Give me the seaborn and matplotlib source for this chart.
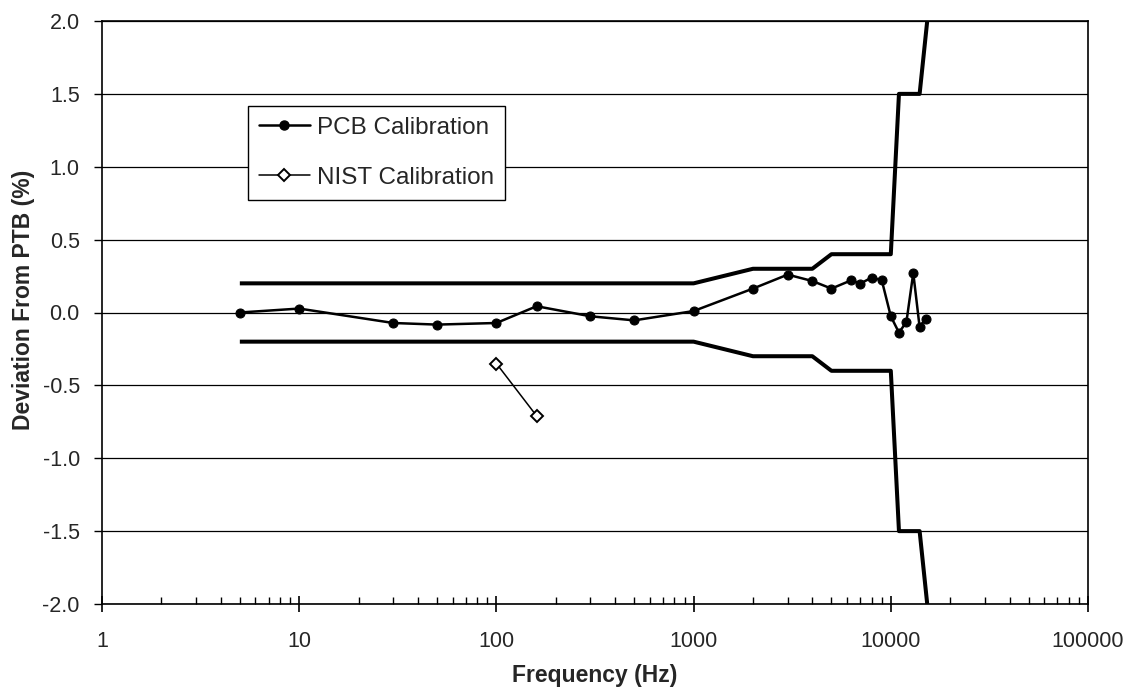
import matplotlib
matplotlib.use("Agg")
import matplotlib.pyplot as plt
import matplotlib.ticker as mticker
from matplotlib.lines import Line2D
import seaborn as sns
import pandas as pd

# ---- data ----
pcb_freq = [5, 10, 30, 50, 100, 160, 300, 500, 1000, 2000, 3000, 4000, 5000,
            6300, 7000, 8000, 9000, 10000, 11000, 12000, 13000, 14000, 15000]
pcb_dev = [0.00, 0.027, -0.072, -0.083, -0.072, 0.043, -0.026, -0.054, 0.01,
           0.164, 0.26, 0.216, 0.164, 0.221, 0.198, 0.24, 0.221, -0.026,
           -0.138, -0.065, 0.271, -0.10, -0.042]

nist_freq = [100, 160]
nist_dev = [-0.35, -0.71]

tol_freq = [5, 1000, 2000, 4000, 5000, 10000, 11000, 14000, 15300]
tol_upper = [0.2, 0.2, 0.3, 0.3, 0.4, 0.4, 1.5, 1.5, 2.0]
tol_lower = [-0.2, -0.2, -0.3, -0.3, -0.4, -0.4, -1.5, -1.5, -2.0]

y_ticks = [-2.0, -1.5, -1.0, -0.5, 0.0, 0.5, 1.0, 1.5, 2.0]
x_ticks = [1, 10, 100, 1000, 10000, 100000]

# ---- style ----
sns.set_style("white")
plt.rcParams['font.family'] = ['Liberation Sans', 'DejaVu Sans']

fig = plt.figure(figsize=(11.33, 6.95), dpi=100)
ax = fig.add_axes([102 / 1133, 1 - 604 / 695, (1088 - 102) / 1133, (604 - 21) / 695])

pcb_df = pd.DataFrame({"f": pcb_freq, "d": pcb_dev})
nist_df = pd.DataFrame({"f": nist_freq, "d": nist_dev})
up_df = pd.DataFrame({"f": tol_freq, "d": tol_upper})
lo_df = pd.DataFrame({"f": tol_freq, "d": tol_lower})

for df in (up_df, lo_df):
    sns.lineplot(data=df, x="f", y="d", ax=ax, color="black", linewidth=2.9,
                 sort=False, estimator=None, legend=False, zorder=3,
                 solid_capstyle="butt")

sns.lineplot(data=pcb_df, x="f", y="d", ax=ax, color="black", linewidth=1.8,
             marker="o", markersize=6.5, markerfacecolor="black",
             markeredgecolor="black", sort=False, estimator=None,
             legend=False, zorder=4)
sns.lineplot(data=nist_df, x="f", y="d", ax=ax, color="black", linewidth=1.1,
             marker="D", markersize=6.5, markerfacecolor="white",
             markeredgecolor="black", markeredgewidth=1.4, sort=False,
             estimator=None, legend=False, zorder=4)

ax.set_xscale("log")
ax.set_xlim(1, 100000)
ax.set_ylim(-2.0, 2.0)

ax.set_yticks(y_ticks)
ax.set_yticklabels([f"{v:.1f}" for v in y_ticks])
ax.set_xticks(x_ticks)
ax.set_xticklabels([str(v) for v in x_ticks])
ax.xaxis.set_minor_locator(mticker.LogLocator(base=10, subs=range(2, 10), numticks=20))
ax.xaxis.set_minor_formatter(mticker.NullFormatter())

ax.grid(axis="y", color="black", linewidth=0.9)
ax.grid(axis="x", visible=False)
ax.set_axisbelow(True)

ax.tick_params(axis="x", which="major", direction="inout", length=11, width=1.2,
               labelsize=15.5, pad=14, color="black", bottom=True)
ax.tick_params(axis="x", which="minor", direction="in", length=5, width=1.0,
               color="black", bottom=True)
ax.tick_params(axis="y", which="major", direction="out", length=6, width=1.0,
               labelsize=15.5, pad=10, color="black", left=True)

for side in ["left", "bottom", "right", "top"]:
    ax.spines[side].set_visible(True)
    ax.spines[side].set_color("black")
    ax.spines[side].set_linewidth(1.2)

ax.set_xlabel("Frequency (Hz)", fontsize=16.5, fontweight="bold")
ax.set_ylabel("Deviation From PTB (%)", fontsize=16.5, fontweight="bold")
ax.xaxis.set_label_coords(0.5, (604 - 664) / 583)
ax.yaxis.set_label_coords((35 - 102) / 986, (604 - 300) / 583)

handles = [
    Line2D([0], [0], color="black", linewidth=1.8, marker="o", markersize=6.5,
           markerfacecolor="black", markeredgecolor="black"),
    Line2D([0], [0], color="black", linewidth=1.1, marker="D", markersize=6.5,
           markerfacecolor="white", markeredgecolor="black", markeredgewidth=1.4),
]
leg = ax.legend(handles, ["PCB Calibration", "NIST Calibration"],
                loc="upper left", bbox_to_anchor=((248 - 102) / 986, (604 - 106) / 583),
                fontsize=17.5, frameon=True, fancybox=False, edgecolor="black",
                framealpha=1, borderpad=0.45, handlelength=2.1, handletextpad=0.3,
                labelspacing=1.15, borderaxespad=0)
leg.get_frame().set_linewidth(1.0)

fig.savefig("out.png", dpi=100, facecolor="white")
